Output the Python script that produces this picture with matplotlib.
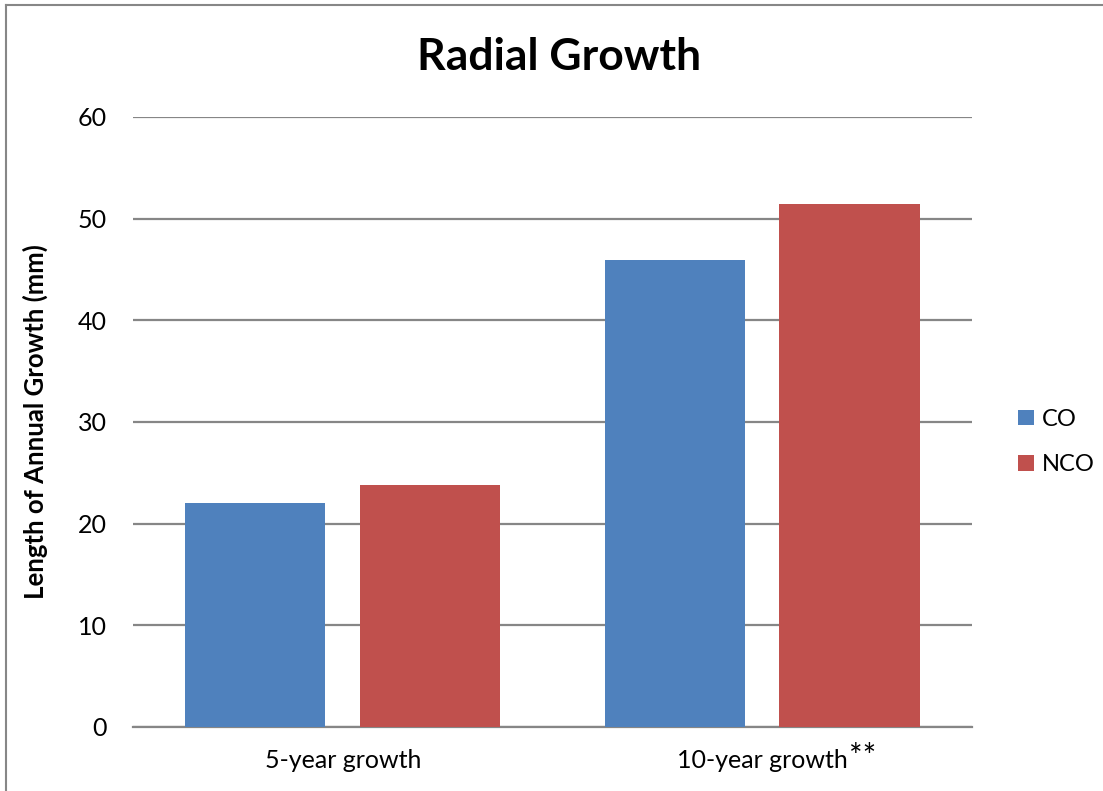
import matplotlib.pyplot as plt
import numpy as np

categories = ["5-year growth", "10-year growth"]
series = ["CO", "NCO"]
co = [22.0, 45.9]
nco = [23.8, 51.4]
colors = ["#4F81BD", "#C0504D"]

plt.rcParams['font.family'] = ['Lato', 'DejaVu Sans']

fig = plt.figure(figsize=(11.03, 7.91), dpi=100)
ax = fig.add_axes([133 / 1103, 64 / 791, 839 / 1103, 610 / 791])

x = np.arange(len(categories))
w = 0.334
ax.bar(x - 0.209, co, width=w, color=colors[0], label=series[0], zorder=3)
ax.bar(x + 0.208, nco, width=w, color=colors[1], label=series[1], zorder=3)

ax.set_xlim(-0.5, 1.5)
ax.set_ylim(0, 60)
ax.set_yticks(range(0, 61, 10))
ax.yaxis.grid(True, color="#868686", linewidth=1.6, zorder=0)
for s in ["top", "right", "left"]:
    ax.spines[s].set_visible(False)
ax.spines["bottom"].set_color("#868686")
ax.spines["bottom"].set_linewidth(1.6)
ax.tick_params(axis="both", length=0, labelsize=18)
ax.tick_params(axis="y", pad=19)
ax.set_xticks(x)
ax.set_xticklabels(categories)
ax.tick_params(axis="x", pad=16)
ax.text(1.206, -3.9, "**", fontsize=23, ha="left", va="baseline")

ax.set_ylabel("Length of Annual Growth (mm)", fontsize=18.5, fontweight="bold", labelpad=21)
fig.text(559 / 1103, 1 - 57 / 791, "Radial Growth", fontsize=32, fontweight="bold",
         ha="center", va="center")

ax.legend(loc="center left", bbox_to_anchor=(1.03, 0.467), frameon=False, fontsize=17,
          handlelength=0.64, handleheight=0.64, handletextpad=0.35, labelspacing=1.03)

# border on top and left
fig.add_artist(plt.Line2D([6 / 1103, 1], [1 - 5 / 791, 1 - 5 / 791], color="#878787", lw=1.5))
fig.add_artist(plt.Line2D([6 / 1103, 6 / 1103], [0, 1 - 5 / 791], color="#878787", lw=1.5))

fig.savefig("out.png", dpi=100)
